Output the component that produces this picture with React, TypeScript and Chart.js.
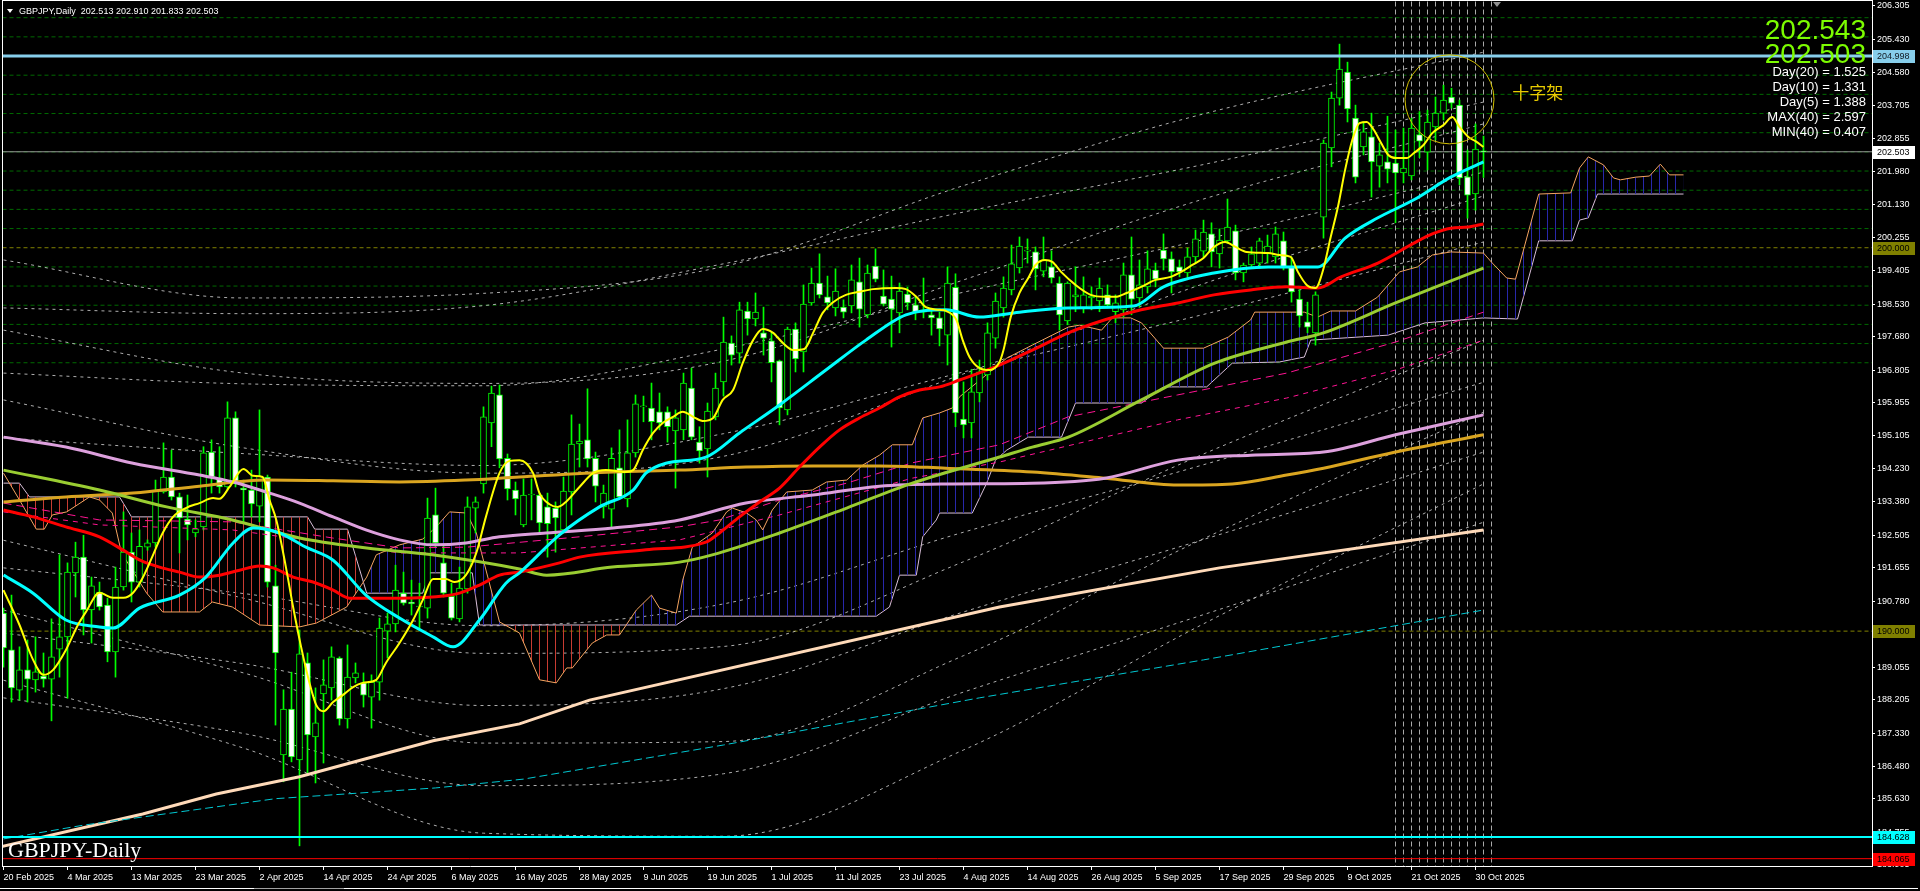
import React, { useEffect, useRef } from 'react';
import { Chart, registerables } from 'chart.js';

Chart.register(...registerables);

// ---------- DATA ----------
const dateLabels = ['20 Feb 2025', '4 Mar 2025', '13 Mar 2025', '23 Mar 2025', '2 Apr 2025', '14 Apr 2025', '24 Apr 2025', '6 May 2025', '16 May 2025', '28 May 2025', '9 Jun 2025', '19 Jun 2025', '1 Jul 2025', '11 Jul 2025', '23 Jul 2025', '4 Aug 2025', '14 Aug 2025', '26 Aug 2025', '5 Sep 2025', '17 Sep 2025', '29 Sep 2025', '9 Oct 2025', '21 Oct 2025', '30 Oct 2025'];
const dateTickBars = [0, 8, 16, 24, 32, 40, 48, 56, 64, 72, 80, 88, 96, 104, 112, 120, 128, 136, 144, 152, 160, 168, 176, 184];

const yTickValues = [206.305, 205.43, 204.58, 203.705, 202.855, 201.98, 201.13, 200.255, 199.405, 198.53, 197.68, 196.805, 195.955, 195.105, 194.23, 193.38, 192.505, 191.655, 190.78, 189.93, 189.055, 188.205, 187.33, 186.48, 185.63, 184.755, 183.905];

const opens = [190.47,189.51,188.46,188.99,188.73,188.83,188.75,189.53,189.85,191.52,
191.93,190.55,191.02,190.68,189.46,191.15,192.06,191.28,192.19,192.30,
193.63,194.02,193.50,192.92,192.56,192.72,194.67,193.99,193.76,195.56,
193.73,193.68,193.26,194.02,191.18,186.77,187.97,186.64,189.17,187.24,
188.36,188.52,189.30,187.71,188.78,188.65,188.28,188.67,190.00,190.19,
190.99,190.76,190.63,190.60,193.03,191.78,190.91,190.32,191.10,193.21,
193.84,195.43,196.16,194.51,193.68,192.77,193.55,193.55,193.24,193.21,
192.64,193.63,194.88,194.99,194.51,193.24,193.18,194.26,193.45,194.65,
195.85,195.82,195.72,195.72,195.22,195.25,196.34,194.93,194.75,195.59,
196.50,197.51,197.25,198.35,198.14,197.78,197.57,197.05,195.77,197.88,
197.28,198.56,199.08,198.72,198.43,198.45,198.48,199.11,198.25,199.52,
198.74,198.66,198.30,198.79,198.51,198.32,198.25,198.17,197.72,198.97,
195.53,195.43,196.21,196.68,197.64,198.43,198.90,199.47,199.91,199.89,
199.39,199.50,199.08,198.09,198.72,198.43,198.69,198.61,198.77,198.33,
198.38,199.29,198.69,198.98,199.42,199.94,199.71,199.50,199.34,199.76,
199.91,200.36,199.84,200.18,200.44,199.34,199.55,199.60,199.86,199.76,
200.18,199.50,198.66,198.07,197.78,200.80,202.60,203.90,204.58,203.38,
202.63,202.89,202.13,202.24,202.21,201.95,201.87,202.95,202.49,203.15,
203.51,203.93,203.72,201.85,201.40,202.513];

const highs = [190.60,190.94,189.59,189.77,189.85,189.43,190.32,191.99,191.78,192.32,
192.50,191.41,191.28,190.86,191.67,193.11,192.56,192.64,192.38,193.94,
194.91,194.72,193.60,193.55,192.90,194.81,194.99,194.81,195.98,195.72,
193.94,194.20,195.77,194.07,191.72,188.47,188.93,190.03,189.43,188.52,
189.25,189.59,189.33,189.64,189.17,188.91,188.86,190.34,190.47,191.72,
191.54,191.33,191.25,193.47,193.73,192.25,191.25,191.67,193.50,193.50,
195.85,196.39,196.42,194.62,193.89,193.97,193.97,193.60,193.60,193.37,
194.02,195.64,195.40,196.32,194.67,193.81,194.78,195.25,195.51,196.16,
196.13,196.47,196.21,195.85,195.77,196.73,196.86,195.33,195.95,196.73,
198.19,197.70,198.58,198.58,198.82,198.45,197.80,197.07,197.93,198.04,
199.03,199.47,199.84,199.26,199.45,198.64,199.55,199.73,199.55,199.97,
199.42,199.26,199.08,198.97,198.72,199.21,198.38,198.32,199.50,199.32,
196.50,196.83,197.07,198.04,198.82,199.24,200.07,200.28,200.23,200.02,
200.28,199.92,199.24,199.11,199.50,199.24,198.98,199.21,199.03,198.77,
199.60,200.28,199.68,199.92,199.60,200.36,199.89,199.68,199.99,200.46,
200.72,200.65,200.49,201.27,200.59,199.60,200.02,200.25,200.33,200.54,
200.41,199.76,198.90,198.58,198.85,202.81,204.06,205.31,204.84,203.72,
203.28,203.51,202.73,203.43,203.07,203.12,203.38,203.55,203.59,203.93,
204.24,204.16,203.85,202.55,203.23,202.910];

const lows = [189.06,188.15,188.20,188.15,188.41,188.54,187.66,188.80,188.25,190.89,
189.90,189.69,190.55,189.20,188.80,191.07,190.76,191.15,192.11,192.19,
193.60,193.42,192.04,192.38,192.46,192.64,193.60,193.60,193.68,193.76,
192.85,192.98,192.85,191.15,187.55,186.07,186.59,184.40,186.30,186.04,
186.56,188.20,187.55,187.47,188.65,188.02,187.47,188.20,189.30,189.98,
190.68,190.42,190.03,190.34,192.19,190.89,190.29,190.24,190.99,192.56,
193.60,194.81,194.26,193.42,193.03,192.72,192.90,192.56,191.93,192.06,
192.56,193.03,194.28,194.28,193.37,192.95,192.72,193.47,193.24,194.54,
195.46,194.99,195.25,194.93,193.73,194.99,194.99,194.38,194.02,195.51,
196.13,196.94,196.99,197.72,197.96,197.20,196.50,195.38,195.64,196.76,
196.76,198.50,198.69,198.38,198.22,198.17,198.30,197.93,198.17,199.11,
198.48,197.41,197.78,198.38,198.12,198.17,197.72,197.44,196.94,195.33,
195.04,195.04,195.98,196.55,197.38,198.19,198.77,199.34,199.60,198.90,
199.24,199.08,197.85,197.99,198.33,198.30,198.38,198.33,198.43,198.04,
198.19,198.25,198.45,198.82,198.98,199.42,198.82,199.24,199.21,199.60,
199.76,199.50,199.47,200.12,199.16,199.11,199.50,199.47,199.60,199.60,
199.42,198.58,197.93,197.78,197.46,200.25,202.11,203.72,203.28,201.69,
202.42,201.32,201.58,201.69,200.65,201.69,201.77,202.35,202.03,202.81,
203.33,203.64,201.64,200.77,200.98,201.833];

const closes = [189.56,188.52,188.99,188.75,188.94,188.75,189.33,189.85,191.54,191.93,
190.55,191.18,190.63,189.46,191.15,192.06,191.28,192.21,192.30,193.68,
194.02,193.50,192.95,192.77,192.67,194.65,194.02,193.76,195.56,193.86,
193.68,193.32,194.04,191.28,189.43,187.97,186.72,189.41,187.29,187.61,
188.60,189.33,187.71,188.80,188.91,188.33,188.67,190.08,190.19,191.07,
190.73,190.71,190.65,192.95,192.30,190.99,190.34,191.12,193.24,193.37,
195.59,196.21,194.49,193.71,193.45,193.55,193.57,192.82,192.80,192.95,
193.65,194.88,194.96,194.49,193.78,193.60,194.51,193.50,194.65,195.93,
195.87,195.46,195.43,195.33,195.56,196.47,195.06,194.70,195.74,196.34,
197.54,197.20,198.38,198.14,198.32,197.64,197.00,195.82,197.88,197.10,
198.53,199.08,198.77,198.56,198.87,198.32,199.16,198.40,199.34,199.18,
198.53,198.40,198.87,198.56,198.32,198.38,198.17,197.88,199.08,195.69,
195.38,196.24,196.76,197.78,198.61,198.95,199.58,200.04,199.94,199.45,
199.68,199.21,198.25,199.08,198.77,198.77,198.74,198.95,198.51,198.56,
199.29,198.66,199.03,199.45,199.18,199.71,199.37,199.37,199.76,200.23,
200.41,199.89,200.20,200.54,199.34,199.55,199.84,200.18,200.04,200.36,
199.47,198.85,198.22,197.93,198.77,202.73,203.90,204.66,203.62,201.84,
203.02,202.24,202.42,202.05,201.95,202.08,203.12,202.78,203.28,203.51,
203.85,203.77,201.82,201.37,202.57,202.503];

// indicator lines: [bar, price]
const yellowLine = [[0,191.07],[2,190.16],[3.7,189.25],[5,188.86],[6.2,188.99],[7.8,189.51],[9.3,190.16],[10.3,190.50],[12,191.00],[13.7,190.87],[15,190.87],[16.2,191.00],[17.4,191.39],[18.7,191.99],[19.9,192.56],[21.2,192.98],[22.8,193.21],[24.5,193.34],[26.2,193.47],[27,193.45],[28.25,193.76],[30,194.23],[31.2,194.05],[32.4,194.02],[33.25,193.42],[34.1,192.90],[35.3,191.67],[36.2,190.63],[37.2,189.59],[38.25,188.65],[39.1,188.07],[40,187.91],[41.2,188.15],[42.4,188.33],[43.7,188.54],[44.9,188.65],[46.6,188.73],[47.8,189.17],[49.5,189.69],[51.2,190.29],[52.4,190.81],[53.7,191.36],[55.3,191.36],[56.4,191.28],[57.8,191.46],[59.1,192.04],[60.3,192.98],[62,194.12],[63.25,194.44],[64.5,194.46],[66.2,194.12],[67,193.60],[68.25,193.31],[69.3,193.24],[70.3,193.37],[72,193.76],[73.7,194.12],[75.3,194.20],[77.8,194.15],[78.7,194.20],[79.9,194.72],[81.2,195.17],[82.4,195.43],[83.7,195.59],[84.9,195.72],[86.2,195.59],[87.4,195.48],[88.7,195.56],[89.9,196.03],[91.2,196.29],[92.4,196.99],[93.7,197.59],[94.9,197.88],[96.2,197.78],[97.4,197.52],[98.7,197.33],[100.1,197.36],[101.2,197.78],[102.4,198.30],[103.7,198.58],[105.3,198.77],[107,198.85],[108.7,198.92],[111.6,198.95],[112.8,198.92],[114.1,198.72],[115.3,198.45],[117,198.38],[117.8,198.35],[119.1,198.12],[119.9,197.59],[120.75,197.15],[122,196.86],[123.25,196.81],[124.5,197.02],[125,197.33],[125.9,198.19],[127,198.82],[128.1,199.21],[129,199.55],[130.2,199.68],[131.1,199.63],[132.2,199.37],[134,199.03],[135.9,198.77],[137.7,198.72],[139,198.72],[140.4,198.82],[142.2,198.98],[144,199.16],[145.9,199.24],[147.2,199.37],[148.6,199.55],[150,199.73],[151.3,200.02],[152.7,200.15],[154,200.02],[155.4,199.89],[158.1,199.86],[159.5,199.81],[160.9,199.76],[161.8,199.37],[162.9,199.03],[164,198.95],[164.95,199.42],[165.9,200.28],[166.8,201.06],[167.7,202.03],[168.6,202.81],[169.5,203.25],[170.4,203.28],[171.3,203.07],[172.2,202.73],[173.1,202.42],[174.05,202.34],[175.4,202.34],[176.3,202.47],[177.5,202.68],[178.6,202.99],[180,203.20],[181.1,203.41],[182,203.15],[183.1,202.89],[184,202.78],[185,202.63]];

const cyanLine = [[0,191.46],[3.7,190.99],[7.8,190.29],[12,190.11],[13.7,190.08],[17,190.60],[22,190.94],[25.3,191.41],[28.7,192.30],[31.2,192.69],[34.5,192.56],[37.8,192.19],[41.2,191.85],[45.3,190.94],[49.5,190.34],[53.7,189.85],[56.2,189.59],[59.5,190.29],[62.8,191.25],[64.5,191.52],[69.5,192.51],[74.5,193.24],[78.7,193.68],[80.3,194.12],[82.8,194.38],[87.8,194.54],[92,195.17],[97,195.90],[102.8,196.81],[107.8,197.59],[112.8,198.25],[117.8,198.38],[122,198.19],[126.3,198.30],[133.1,198.43],[141.3,198.48],[145,198.98],[151.3,199.34],[158.1,199.50],[164.3,199.50],[167.7,200.25],[171.8,200.78],[176.3,201.25],[180.9,201.84],[185,202.24]];

const redLine = [[0,193.16],[3.7,192.98],[7.8,192.72],[12,192.46],[14.9,192.12],[17,191.86],[19.5,191.67],[22,191.54],[24.5,191.41],[27,191.46],[29.5,191.59],[32,191.70],[33.7,191.65],[36.2,191.41],[38.7,191.28],[41.2,191.07],[43.25,190.86],[49.5,190.86],[55.3,190.92],[57,190.99],[59.5,191.20],[62,191.46],[64.5,191.54],[69.5,191.78],[72,191.93],[80.3,192.12],[87.8,192.32],[89.5,192.56],[92,192.98],[94.5,193.37],[97,193.73],[99.5,194.28],[102,194.80],[104.5,195.25],[107,195.56],[109.5,195.82],[112,196.11],[114.5,196.29],[117,196.37],[119.5,196.55],[124.5,196.94],[128.6,197.33],[133.1,197.78],[137.7,198.12],[142.2,198.38],[146.8,198.56],[151.3,198.77],[155.9,198.90],[160.4,198.98],[164.3,198.95],[167.2,199.24],[171.8,199.60],[176.3,200.12],[178.6,200.36],[180.9,200.51],[183.1,200.54],[185,200.62]];

const oliveLine = [[0,194.20],[12,193.68],[20.4,193.24],[28.6,192.90],[37,192.43],[45.4,192.17],[53.6,191.99],[64.5,191.62],[67.9,191.46],[76.1,191.67],[84.5,191.80],[88.6,191.99],[97,192.56],[105.4,193.21],[113.6,193.86],[124.5,194.54],[128.6,194.80],[133.1,195.06],[142.25,196.03],[151.4,196.99],[160.4,197.54],[165,197.78],[174,198.56],[185,199.47]];

const plumLine = [[0,195.06],[7.8,194.80],[16.2,194.38],[24.5,194.07],[28.7,193.89],[32.8,193.63],[37,193.34],[41.2,192.98],[45.3,192.64],[49.5,192.38],[53.7,192.25],[57.8,192.30],[62,192.46],[67.8,192.56],[76.2,192.69],[84.5,192.90],[92.8,193.34],[101.2,193.55],[109.5,193.78],[117.8,193.84],[128.6,193.86],[137.7,193.99],[146.8,194.46],[155.9,194.59],[165,194.67],[174,195.12],[185,195.64]];

const goldLine = [[0,193.37],[7.8,193.50],[16.2,193.60],[24.5,193.78],[32.8,193.94],[41.2,193.92],[49.5,193.89],[57.8,193.94],[64.5,194.02],[76.2,194.15],[84.5,194.20],[92.8,194.28],[101.2,194.31],[109.5,194.31],[117.8,194.25],[128.6,194.15],[137.7,193.99],[146.8,193.81],[153.6,193.84],[160.4,194.07],[165,194.25],[174,194.67],[185,195.12]];

const peachLine = [[-0.5,184.37],[17.4,185.23],[26.6,185.75],[37,186.20],[45.3,186.67],[53.7,187.14],[64.5,187.58],[73.25,188.20],[124.5,190.63],[152,191.65],[185,192.64]];

const cyanDashLine = [[0,184.58],[10,184.94],[34,185.63],[54,185.91],[65,186.14],[90,187.03],[122,188.26],[150,189.25],[185,190.55]];

const pinkLine1 = [[0,193.34],[12,192.90],[28.6,192.85],[41.1,192.43],[49.5,192.17],[57.9,192.19],[72,192.46],[84.5,192.72],[89.5,192.90],[97,193.42],[105.4,193.86],[113.6,194.39],[124.5,194.86],[133.1,195.59],[146.75,196.16],[160.4,196.73],[174,197.54],[185,198.32]];
const pinkLine2 = [[0,193.11],[12,192.77],[28.6,192.64],[49.5,192.04],[64.5,192.04],[84.5,192.38],[97,193.03],[113.6,193.99],[124.5,194.41],[146.75,195.51],[160.4,196.08],[174,196.81],[185,197.59]];

// white dotted band lines, sampled at these bars
const bandBars = [0, 30, 60, 90, 120, 150, 185];
const bandA3u = [199.68, 198.69, 198.81, 199.51, 201.62, 203.49, 205.10];
const bandA2u = [197.85, 196.73, 196.46, 197.04, 199.16, 201.27, 203.23];
const bandA1u = [196.03, 194.78, 194.12, 194.56, 196.71, 199.06, 201.35];
const bandA1d = [192.37, 190.86, 189.42, 189.60, 191.81, 194.62, 197.59];
const bandA2d = [190.55, 188.91, 187.08, 187.12, 189.36, 192.41, 195.71];
const bandA3d = [188.72, 186.95, 184.73, 184.65, 186.90, 190.19, 193.84];
const bandB3u = [198.43, 198.28, 198.49, 199.58, 200.93, 202.17, 203.80];
const bandB2u = [196.73, 196.45, 196.40, 197.36, 198.84, 200.21, 201.97];
const bandB1u = [195.04, 194.63, 194.32, 195.15, 196.76, 198.26, 200.15];
const bandB1d = [191.65, 190.98, 190.14, 190.71, 192.58, 194.34, 196.49];
const bandB2d = [189.95, 189.15, 188.06, 188.50, 190.50, 192.39, 194.67];
const bandB3d = [188.26, 187.33, 185.97, 186.28, 188.41, 190.43, 192.84];
const bandLines = [bandA3u, bandA2u, bandA1u, bandA1d, bandA2d, bandA3d, bandB3u, bandB2u, bandB1u, bandB1d, bandB2d, bandB3d];

const senkouA = [[0,194.12],[2,193.42],[4.1,192.66],[5.1,192.66],[6.1,193.03],[7.9,193.11],[10.75,193.50],[12,193.42],[13.6,193.08],[14.75,192.04],[17.9,190.99],[19.9,190.50],[24.5,190.50],[26.1,190.76],[28.6,190.63],[32,190.16],[37,190.11],[39.1,190.21],[42.9,190.63],[45.4,191.41],[46.6,191.99],[49.5,192.25],[52.4,192.40],[54.1,192.72],[55.75,193.11],[57.9,193.08],[59.1,192.56],[62,190.24],[64.5,189.95],[66.1,189.17],[67,188.73],[69.1,188.65],[70.4,189.04],[71.1,189.04],[73.6,189.69],[75.4,189.90],[77,189.90],[79.1,190.55],[81,190.94],[82,190.60],[84.1,190.47],[84.9,191.33],[86.1,192.19],[88.6,192.56],[90.4,193.11],[91.1,193.21],[92.9,193.08],[94.1,192.90],[94.9,192.64],[96.1,193.16],[97.9,193.63],[101.1,193.68],[102.9,193.89],[105.4,193.94],[107.4,194.33],[109.5,194.59],[111.1,194.86],[113.6,194.86],[114.9,195.56],[117,195.69],[118.6,195.82],[119.5,196.11],[125.4,197.12],[128.6,197.46],[133.1,197.93],[134.5,197.98],[137.25,197.85],[138.6,198.17],[140.9,198.17],[142.25,198.04],[145,197.38],[150,197.38],[153.1,197.67],[155.9,198.12],[156.4,198.32],[162.6,198.32],[164.25,198.19],[165.9,198.35],[169,198.35],[171.75,198.71],[174.5,199.37],[176.75,199.50],[178.6,199.81],[180.9,199.89],[185,199.86],[186.1,199.60],[187.9,199.21],[189,199.18],[190.1,200.02],[191.9,201.40],[195.9,201.43],[197,202.08],[198.1,202.37],[200,202.16],[201.25,201.82],[202.1,201.77],[204,201.84],[205.75,201.87],[207.1,202.18],[208.25,201.90],[210,201.90]];

const senkouB = [[0,193.86],[2,193.86],[3.25,193.50],[14.5,193.50],[16,192.98],[38,192.98],[38.9,192.66],[43,192.66],[45.4,190.99],[52.4,190.99],[53.25,191.52],[58.6,191.52],[59.5,190.16],[84.1,190.16],[85.75,190.39],[109.1,190.39],[110.75,190.63],[112,191.46],[114.1,191.46],[114.9,192.46],[116.6,192.90],[117,193.08],[121.1,193.08],[122.9,193.86],[124,194.46],[125.4,194.72],[128.1,195.06],[132.25,195.06],[134,195.95],[142.25,195.95],[145,196.37],[150.4,196.37],[153.6,196.99],[159.5,197.02],[162.6,197.15],[163.4,197.59],[173.1,197.72],[177.7,198.04],[185,198.17],[189.25,198.14],[191.9,200.18],[196.1,200.18],[197,200.72],[198.1,200.78],[199.25,201.40],[210,201.40]];

const greenGridLevels = [197.0, 197.5, 198.0, 198.5, 199.0, 199.5, 200.5, 201.0, 201.5, 202.0, 202.5, 203.0, 203.5, 204.0, 204.5, 205.0, 205.5, 206.0];
const roundLevels = [200.0, 190.0];
const resistanceLevel = 204.998;
const currentPrice = 202.503;
const supportLevel = 184.628;
const lowLevel = 184.065;
const markedBars = [174, 175, 176, 177, 178, 179, 180, 181, 182, 183, 184, 185, 186];
const circleCenter = { bar: 180.75, price: 203.87 };
const crossLabel = '十字架';
const crossLabelAt = { bar: 188.6, price: 204.05 };
const headerText = 'GBPJPY,Daily  202.513 202.910 201.833 202.503';
const bigPrices = ['202.543', '202.503'];
const statLines = ['Day(20) = 1.525', 'Day(10) = 1.331', 'Day(5) = 1.388', 'MAX(40) = 2.597', 'MIN(40) = 0.407'];
const symbolLabel = 'GBPJPY-Daily';
const priceBoxes = [
  { v: 204.998, bg: '#87CEEB', fg: '#101820' },
  { v: 202.503, bg: '#FFFFFF', fg: '#000000' },
  { v: 200.0, bg: '#808000', fg: '#000000' },
  { v: 190.0, bg: '#808000', fg: '#000000' },
  { v: 184.628, bg: '#00FFFF', fg: '#000000' },
  { v: 184.065, bg: '#FF0000', fg: '#000000' },
];

// ---------- helpers ----------
const pts = (arr: number[][]) => arr.map(([x, y]) => ({ x, y }));
const lineDs = (arr: number[][], color: string, width: number, order: number, extra: any = {}) => ({
  type: 'line', data: pts(arr), borderColor: color, backgroundColor: color, borderWidth: width,
  pointRadius: 0, fill: false, tension: 0, order, ...extra,
});

function makeHatch(ctx: CanvasRenderingContext2D, color: string) {
  const c = document.createElement('canvas');
  c.width = 8; c.height = 8;
  const g = c.getContext('2d')!;
  g.fillStyle = color;
  g.fillRect(3, 0, 1, 8);
  return ctx.createPattern(c, 'repeat');
}

const decorPlugin = {
  id: 'decor',
  afterDatasetsDraw(chart: any) {
    const { ctx, chartArea: a, scales: { x, y } } = chart;
    ctx.save();
    ctx.beginPath();
    ctx.rect(a.left, a.top, a.right - a.left, a.bottom - a.top);
    ctx.clip();
    ctx.strokeStyle = '#D2C000';
    ctx.lineWidth = 1;
    ctx.beginPath();
    ctx.arc(x.getPixelForValue(circleCenter.bar), y.getPixelForValue(circleCenter.price), 44.5, 0, Math.PI * 2);
    ctx.stroke();
    ctx.font = '17px "Noto Sans CJK SC"';
    ctx.fillStyle = '#E8CC00';
    ctx.textAlign = 'left';
    ctx.textBaseline = 'middle';
    ctx.fillText(crossLabel, x.getPixelForValue(crossLabelAt.bar), y.getPixelForValue(crossLabelAt.price));
    ctx.restore();
  },
  afterDraw(chart: any) {
    const { ctx, chartArea: a, scales: { y } } = chart;
    ctx.save();
    ctx.fillStyle = '#FFFFFF';
    ctx.fillRect(a.left - 1, a.top - 1, a.right - a.left + 2, 1);
    ctx.fillRect(a.left - 1, a.top - 1, 1, a.bottom - a.top + 2);
    ctx.fillRect(0, 888, 1918, 1);
    ctx.fillStyle = '#A0A0A0';
    ctx.fillRect(254, 888, 90, 1);
    ctx.fillStyle = '#FFFFFF';
    ctx.beginPath();
    ctx.moveTo(7, 9); ctx.lineTo(13, 9); ctx.lineTo(10, 13); ctx.closePath(); ctx.fill();
    ctx.font = '9px "Liberation Sans"';
    ctx.textAlign = 'left';
    ctx.textBaseline = 'alphabetic';
    ctx.fillText(headerText, 19, 14);
    ctx.fillStyle = '#909090';
    ctx.beginPath();
    ctx.moveTo(1493, 2); ctx.lineTo(1501, 2); ctx.lineTo(1497, 7); ctx.closePath(); ctx.fill();
    ctx.fillStyle = '#7CFC00';
    ctx.font = '28px "Liberation Sans"';
    ctx.textAlign = 'right';
    ctx.fillText(bigPrices[0], 1866, 39);
    ctx.fillText(bigPrices[1], 1866, 63);
    ctx.fillStyle = '#FFFFFF';
    ctx.font = '13px "Liberation Sans"';
    statLines.forEach((t, i) => ctx.fillText(t, 1866, 76 + i * 15));
    ctx.font = '22px "Liberation Serif"';
    ctx.textAlign = 'left';
    ctx.fillText(symbolLabel, 8, 857);
    ctx.font = '9px "Liberation Sans"';
    ctx.textBaseline = 'middle';
    priceBoxes.forEach(b => {
      const py = Math.round(y.getPixelForValue(b.v));
      ctx.fillStyle = b.bg;
      ctx.fillRect(a.right + 1, py - 6, 42, 13);
      ctx.fillStyle = b.fg;
      ctx.fillText(b.v.toFixed(3), a.right + 5, py + 0.5);
    });
    ctx.restore();
  },
};

export default function App() {
  const ref = useRef<HTMLCanvasElement>(null);
  useEffect(() => {
    document.body.style.margin = '0';
    document.body.style.background = '#000';
    const canvas = ref.current!;
    const ctx = canvas.getContext('2d')!;
    const blueHatch = makeHatch(ctx, 'rgb(40,40,170)');
    const redHatch = makeHatch(ctx, 'rgb(200,60,50)');

    const datasets: any[] = [];
    greenGridLevels.forEach(l => datasets.push(lineDs([[-1, l], [240, l]], 'rgb(0,105,0)', 1, 300, { borderDash: [4, 3] })));
    roundLevels.forEach(l => datasets.push(lineDs([[-1, l], [240, l]], 'rgb(128,128,0)', 1, 299, { borderDash: [4, 3] })));
    datasets.push(lineDs([[-1, currentPrice], [240, currentPrice]], 'rgb(150,150,150)', 1, 298));
    markedBars.forEach(b => datasets.push(lineDs([[b, 180], [b, 210]], 'rgb(170,170,170)', 1, 297, { borderDash: [5, 3] })));
    bandLines.forEach(vals => datasets.push(lineDs(bandBars.map((b, i) => [b, vals[i]]), 'rgba(205,205,205,0.85)', 1, 260, { borderDash: [3, 4], cubicInterpolationMode: 'monotone' })));
    const idxB = datasets.length;
    datasets.push(lineDs(senkouB, '#D8BFD8', 1, 250));
    datasets.push(lineDs(senkouA, '#F4A460', 1, 249, { fill: { target: idxB, above: blueHatch, below: redHatch } }));
    const bars = opens.map((_, i) => i);
    datasets.push({
      type: 'bar', data: bars.map(i => ({ x: i, y: [lows[i], highs[i]] })),
      backgroundColor: '#00FF00', barThickness: 1, grouped: false, order: 150,
    });
    datasets.push({
      type: 'bar', data: bars.map(i => ({ x: i, y: [opens[i], closes[i]] })),
      backgroundColor: bars.map(i => (closes[i] < opens[i] ? '#FFFFFF' : '#000000')),
      borderColor: '#00FF00', borderWidth: 1, borderSkipped: false, barThickness: 6,
      minBarLength: 1, grouped: false, order: 149,
    });
    datasets.push(lineDs(peachLine, '#FFDAB9', 3, 110));
    datasets.push(lineDs(cyanDashLine, 'rgb(0,200,210)', 1, 109, { borderDash: [8, 4] }));
    datasets.push(lineDs(pinkLine1, '#FF1493', 1, 108, { borderDash: [8, 5] }));
    datasets.push(lineDs(pinkLine2, '#FF1493', 1, 107, { borderDash: [5, 5] }));
    datasets.push(lineDs(goldLine, '#DAA520', 3, 106, { cubicInterpolationMode: 'monotone' }));
    datasets.push(lineDs(plumLine, '#DDA0DD', 3, 105, { cubicInterpolationMode: 'monotone' }));
    datasets.push(lineDs(oliveLine, '#9ACD32', 3, 104, { cubicInterpolationMode: 'monotone' }));
    datasets.push(lineDs(redLine, '#FF0000', 3, 103, { cubicInterpolationMode: 'monotone' }));
    datasets.push(lineDs(cyanLine, '#00FFFF', 3, 102, { cubicInterpolationMode: 'monotone' }));
    datasets.push(lineDs(yellowLine, '#FFFF00', 2, 101, { cubicInterpolationMode: 'monotone' }));
    datasets.push(lineDs([[-1, resistanceLevel], [240, resistanceLevel]], '#87CEEB', 3, 20));
    datasets.push(lineDs([[-1, supportLevel], [240, supportLevel]], '#00FFFF', 2, 19));
    datasets.push(lineDs([[-1, lowLevel], [240, lowLevel]], '#FF0000', 1, 18));

    const labelMap: Record<number, string> = {};
    dateTickBars.forEach((b, i) => { labelMap[b] = dateLabels[i]; });

    const chart = new Chart(ctx, {
      type: 'line',
      data: { datasets },
      options: {
        responsive: false,
        animation: false,
        events: [],
        layout: { padding: { left: 3, top: 1, right: 0, bottom: 0 }, autoPadding: false },
        plugins: { legend: { display: false }, tooltip: { enabled: false } },
        scales: {
          x: {
            type: 'linear', min: -0.0625, max: 233.5625, position: 'bottom', offset: false,
            afterBuildTicks: (s: any) => { s.ticks = dateTickBars.map(v => ({ value: v })); },
            afterFit: (s: any) => { s.height = 25; s.paddingLeft = 0; s.paddingRight = 0; },
            ticks: {
              color: '#FFFFFF', font: { family: 'Liberation Sans', size: 9 }, align: 'start',
              maxRotation: 0, autoSkip: false, padding: 2,
              callback: (v: any) => labelMap[v] ?? '',
            },
            grid: { drawOnChartArea: false, color: '#FFFFFF', tickLength: 4, offset: false },
            border: { color: '#FFFFFF', width: 1 },
          },
          y: {
            type: 'linear', position: 'right', min: 183.874, max: 206.435, offset: false, beginAtZero: false,
            afterBuildTicks: (s: any) => { s.ticks = yTickValues.map(v => ({ value: v })); },
            afterFit: (s: any) => { s.width = 48; s.paddingTop = 0; s.paddingBottom = 0; },
            ticks: {
              color: '#FFFFFF', font: { family: 'Liberation Sans', size: 9 }, padding: 2, autoSkip: false,
              callback: (v: any) => Number(v).toFixed(3),
            },
            grid: { drawOnChartArea: false, color: '#FFFFFF', tickLength: 3, offset: false },
            border: { color: '#FFFFFF', width: 1 },
          },
        },
      } as any,
      plugins: [decorPlugin],
    } as any);
    return () => chart.destroy();
  }, []);
  return (
    <div style={{ width: 1920, height: 891, background: '#000' }}>
      <canvas ref={ref} width={1920} height={891} style={{ display: 'block' }} />
    </div>
  );
}
